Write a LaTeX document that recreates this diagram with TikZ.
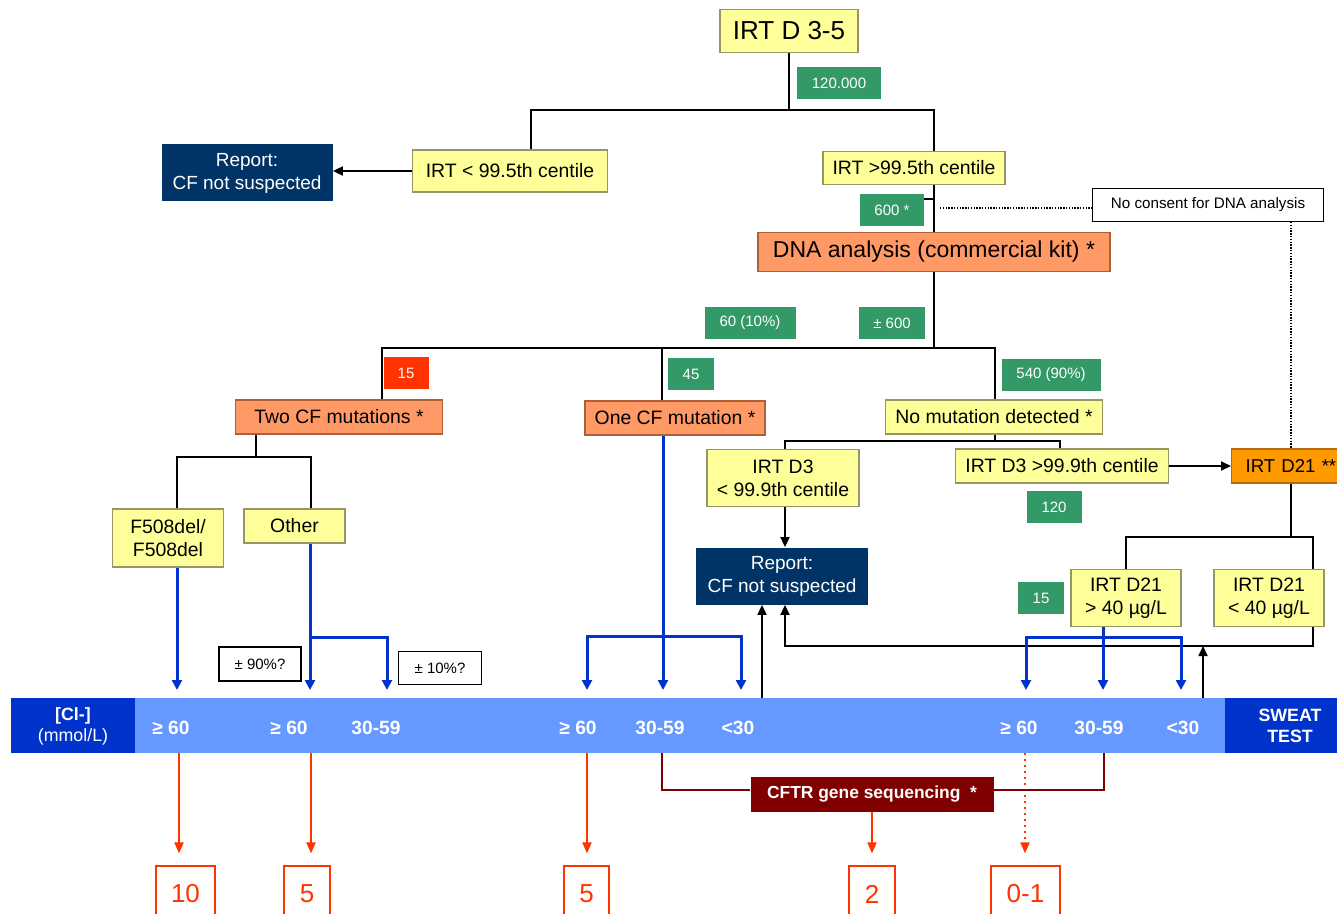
\documentclass[tikz,border=0pt]{standalone}
\usepackage{fontspec}
\setmainfont{Liberation Sans}
\usetikzlibrary{arrows.meta}
\definecolor{yfill}{RGB}{255, 255, 153}
\definecolor{ydraw}{RGB}{150, 150, 100}
\definecolor{sfill}{RGB}{255, 153, 102}
\definecolor{sdraw}{RGB}{175, 95, 55}
\definecolor{ofill}{RGB}{255, 153, 0}
\definecolor{odraw}{RGB}{180, 105, 20}
\definecolor{cnavy}{RGB}{0, 51, 102}
\definecolor{cgreen}{RGB}{51, 153, 102}
\definecolor{cred}{RGB}{255, 51, 0}
\definecolor{cblue}{RGB}{0, 51, 204}
\definecolor{cbarl}{RGB}{102, 153, 255}
\definecolor{cdred}{RGB}{128, 0, 0}

\begin{document}
\begin{tikzpicture}[
  every node/.style={inner sep=0pt, align=center},
  ybox/.style={draw=ydraw, fill=yfill, line width=0.6pt, font=\fontsize{9.7}{11.5}\selectfont},
  sbox/.style={draw=sdraw, fill=sfill, line width=0.6pt, font=\fontsize{9.7}{11.5}\selectfont},
  obox/.style={draw=odraw, fill=ofill, line width=0.6pt, font=\fontsize{9.3}{11.5}\selectfont},
  nbox/.style={fill=cnavy, text=white, font=\fontsize{9.5}{11.5}\selectfont},
  wbox/.style={draw=black, fill=white, line width=0.6pt, font=\fontsize{7.5}{9}\selectfont},
  gtag/.style={fill=cgreen, text=white, minimum height=16.3pt, font=\fontsize{7.5}{9}\selectfont},
  rtag/.style={fill=cred, text=white, minimum height=16.3pt, font=\fontsize{7.5}{9}\selectfont},
  blab/.style={text=white, font=\bfseries\fontsize{9.6}{11}\selectfont},
  res/.style={draw=cred, text=cred, fill=white, line width=0.6pt, minimum height=28pt, font=\fontsize{13}{15}\selectfont},
  tree/.style={line width=0.9pt, color=black},
  arr/.style={-{Triangle[length=5pt, width=4.5pt]}},
  blu/.style={line width=1.5pt, color=cblue, -{Triangle[length=5pt, width=5pt]}},
  darr/.style={{Triangle[length=5pt, width=5pt]}-{Triangle[length=5pt, width=5pt]}},
  rarr/.style={line width=1pt, color=cred, -{Triangle[length=5.5pt, width=4.5pt]}, shorten >=6pt},
  seq/.style={line width=1.3pt, color=cdred},
  dots/.style={line width=0.7pt, dash pattern=on 0.7pt off 0.7pt}
]
\useasboundingbox (0pt, 0pt) rectangle (668.5pt, -457pt);
\clip (0pt, 0pt) rectangle (668.5pt, -457pt);

% boxes
\node (irt35) [ybox, minimum width=69pt, minimum height=21.5pt, font=\fontsize{13}{15}\selectfont] at (394.5pt, -15.5pt) {IRT D 3-5};
\node (lowirt) [ybox, minimum width=97.5pt, minimum height=21pt] at (255pt, -85.5pt) {IRT < 99.5th centile};
\node (rep1) [nbox, minimum width=85.5pt, minimum height=28.5pt] at (123.5pt, -86.5pt) {Report:\\CF not suspected};
\node (highirt) [ybox, minimum width=91pt, minimum height=16.5pt] at (457pt, -84pt) {IRT >99.5th centile};
\node (nocons) [wbox, minimum width=115.5pt, minimum height=16.5pt, font=\fontsize{7.6}{9}\selectfont] at (604pt, -102.5pt) {No consent for DNA analysis};
\node (dna) [sbox, minimum width=176pt, minimum height=19.5pt, font=\fontsize{11.5}{13}\selectfont] at (467pt, -126pt) {DNA analysis (commercial kit) *};
\node (twocf) [sbox, minimum width=103.5pt, minimum height=17pt] at (169.5pt, -208.5pt) {Two CF mutations *};
\node (onecf) [sbox, minimum width=90pt, minimum height=17pt] at (337.5pt, -209pt) {One CF mutation *};
\node (nomut) [ybox, minimum width=108.5pt, minimum height=17pt] at (497pt, -208.5pt) {No mutation detected *};
\node (f508) [ybox, minimum width=55.5pt, minimum height=29pt] at (84pt, -269pt) {F508del/\\F508del};
\node (other) [ybox, minimum width=50.5pt, minimum height=17pt] at (147.25pt, -263pt) {Other};
\node (d3low) [ybox, minimum width=76pt, minimum height=28.5pt] at (391.5pt, -239pt) {IRT D3\\< 99.9th centile};
\node (d3high) [ybox, minimum width=106.5pt, minimum height=17pt] at (531pt, -233pt) {IRT D3 >99.9th centile};
\node (rep2) [nbox, minimum width=86pt, minimum height=28.5pt] at (391pt, -288pt) {Report:\\CF not suspected};
\node (d21) [obox, anchor=west, inner xsep=7pt, text width=53pt, align=left, minimum height=17pt] at (615.5pt, -233pt) {IRT D21 **};
\node (d21hi) [ybox, minimum width=55pt, minimum height=28.5pt] at (563pt, -299pt) {IRT D21\\> 40 µg/L};
\node (d21lo) [ybox, minimum width=55pt, minimum height=28.5pt] at (634.5pt, -299pt) {IRT D21\\< 40 µg/L};

% counts
\node (t120000) [gtag, minimum width=42pt] at (419.5pt, -41.5pt) {120.000};
\node (t600) [gtag, minimum width=32pt] at (446pt, -105pt) {600 *};
\node (t60) [gtag, minimum width=45.5pt] at (375pt, -161.5pt) {60 (10\%)};
\node (tpm600) [gtag, minimum width=33pt] at (446pt, -161.5pt) {± 600};
\node (t15) [rtag, minimum width=22.5pt] at (203pt, -186.5pt) {15};
\node (t45) [gtag, minimum width=23pt] at (345.5pt, -187pt) {45};
\node (t540) [gtag, minimum width=49.5pt] at (525.5pt, -187.5pt) {540 (90\%)};
\node (t120) [gtag, minimum width=27.5pt] at (527pt, -253.5pt) {120};
\node (t15b) [gtag, minimum width=23pt] at (520.5pt, -299pt) {15};
\node (p90) [wbox, minimum width=41pt, minimum height=17pt] at (130pt, -332pt) {± 90\%?};
\node (p10) [wbox, minimum width=41.5pt, minimum height=16.5pt] at (220pt, -334pt) {± 10\%?};

% sweat test bar
\fill [cbarl] (67.5pt, -349pt) rectangle (612.5pt, -376.5pt);
\fill [cblue] (5.5pt, -349pt) rectangle (67.5pt, -376.5pt);
\fill [cblue] (612.5pt, -349pt) rectangle (670pt, -376.5pt);
\node (cl) [text=white, font=\fontsize{8.9}{10.5}\selectfont] at (36.5pt, -363pt) {{\bfseries [Cl-]}\\(mmol/L)};
\node (sweat) [blab, font=\bfseries\fontsize{8.9}{10.5}\selectfont] at (645pt, -363pt) {SWEAT\\TEST};
\node (c1) [blab] at (85.5pt, -364pt) {≥ 60};
\node (c2) [blab] at (144.5pt, -364pt) {≥ 60};
\node (c3) [blab] at (188pt, -364pt) {30-59};
\node (c4) [blab] at (289pt, -364pt) {≥ 60};
\node (c5) [blab] at (330pt, -364pt) {30-59};
\node (c6) [blab] at (369pt, -364pt) {<30};
\node (c7) [blab] at (509.5pt, -364pt) {≥ 60};
\node (c8) [blab] at (549.5pt, -364pt) {30-59};
\node (c9) [blab] at (591.5pt, -364pt) {<30};

\node (cftr) [fill=cdred, text=white, minimum width=121.5pt, minimum height=17.5pt, font=\bfseries\fontsize{8.7}{10}\selectfont] at (436pt, -397pt) {CFTR gene sequencing\ \ *};

% outcomes
\node (r10) [res, minimum width=29.5pt] at (92.75pt, -447pt) {10};
\node (r5a) [res, minimum width=23pt] at (153.5pt, -447pt) {5};
\node (r5b) [res, minimum width=22.5pt] at (293.25pt, -447pt) {5};
\node (r2) [res, minimum width=23pt] at (436pt, -447pt) {2};
\node (r01) [res, minimum width=34.5pt] at (512.75pt, -447pt) {0-1};

% junctions
\coordinate (j1) at (394.5pt, -55pt);
\coordinate (x1) at (265.5pt, -55pt);
\coordinate (s600) at (462pt, -99.5pt);
\coordinate (dt) at (470pt, -104pt);
\coordinate (j2) at (467pt, -174pt);
\coordinate (xa) at (191pt, -174pt);
\coordinate (xb) at (331pt, -174pt);
\coordinate (xc) at (497.5pt, -174pt);
\coordinate (j3) at (128pt, -228.5pt);
\coordinate (xf) at (88.5pt, -228.5pt);
\coordinate (xo) at (155.5pt, -228.5pt);
\coordinate (j4) at (497.5pt, -220.5pt);
\coordinate (xl) at (392.5pt, -220.5pt);
\coordinate (xh) at (530pt, -220.5pt);
\coordinate (x21) at (645.5pt, -268.5pt);
\coordinate (x21r) at (656.5pt, -323pt);
\coordinate (xr2) at (392.5pt, -323pt);
\coordinate (u1) at (381pt, -349pt);
\coordinate (u2) at (601.5pt, -349pt);
\coordinate (tip) at (0pt, -345pt);
\coordinate (ob) at (155pt, -318.5pt);
\coordinate (obr) at (193.5pt, -318.5pt);
\coordinate (ma) at (293.5pt, -318pt);
\coordinate (mb) at (331.5pt, -318pt);
\coordinate (mc) at (370.5pt, -318pt);
\coordinate (na) at (513pt, -318.5pt);
\coordinate (nb) at (551.5pt, -318.5pt);
\coordinate (nc) at (590.5pt, -318.5pt);
\coordinate (bb) at (0pt, -376.5pt);
\coordinate (ra) at (89.5pt, 0pt);
\coordinate (rb) at (155.5pt, 0pt);
\coordinate (rc) at (293.5pt, 0pt);
\coordinate (rd) at (512.5pt, 0pt);
\coordinate (sa) at (331pt, -395pt);
\coordinate (sb) at (552pt, -395pt);

% black tree
\draw [tree] (irt35) to (j1);
\draw [tree] (x1 |- lowirt.north) |- (j1) -| (dna.north |- highirt.north);
\draw [tree, arr] (lowirt) to (rep1.east |- lowirt);
\draw [tree] (dna.north |- highirt.south) to (dna.north);
\draw [tree] (s600) to (s600 -| dna.north);
\draw [dots] (dt) to (dt -| nocons.west);
\draw [dots] (x21 |- nocons.south) to (x21 |- d21.north);
\draw [tree] (dna.south) to (j2);
\draw [tree] (xa |- twocf.north) -- (xa) -- (xc) -- (xc |- nomut.north);
\draw [tree] (xb) to (xb |- onecf.north);
\draw [tree] (j3 |- twocf.south) to (j3);
\draw [tree] (xf |- f508.north) -- (xf) -- (xo) -- (xo |- other.north);
\draw [tree] (j4 |- nomut.south) to (j4);
\draw [tree] (xl |- d3low.north) -- (xl) -- (xh) -- (xh |- d3high.north);
\draw [tree, arr] (xl |- d3low.south) to (xl |- rep2.north);
\draw [tree, arr] (d3high) to (d21);
\draw [tree] (x21 |- d21.south) to (x21);
\draw [tree] (d21hi.north) |- (x21) -| (x21r |- d21lo.north);
\draw [tree, arr] (x21r |- d21lo.south) -- (x21r) -- (xr2) -- (xr2 |- rep2.south);
\draw [tree, arr] (u1) to (u1 |- rep2.south);
\draw [tree, arr] (u2) to (u2 |- xr2);

% blue arrows to the sweat test
\draw [blu] (xf |- f508.south) to (xf |- tip);
\draw [blu] (ob |- other.south) to (ob |- tip);
\draw [blu] (ob) -- (obr) -- (obr |- tip);
\draw [blu] (mb |- onecf.south) to (mb |- tip);
\draw [blu, darr] (ma |- tip) -- (ma) -- (mc) -- (mc |- tip);
\draw [blu] (nb |- d21hi.south) to (nb |- tip);
\draw [blu, darr] (na |- tip) -- (na) -- (nc) -- (nc |- tip);

% outcomes
\draw [rarr] (ra |- bb) to (ra |- r10.north);
\draw [rarr] (rb |- bb) to (rb |- r5a.north);
\draw [rarr] (rc |- bb) to (rc |- r5b.north);
\draw [rarr] (cftr) to (r2);
\draw [rarr, dotted] (rd |- bb) to (rd |- r01.north);
\draw [seq] (sa |- bb) -- (sa) -- (sa -| cftr.west);
\draw [seq] (sb |- bb) -- (sb) -- (sb -| cftr.east);
\end{tikzpicture}
\end{document}
